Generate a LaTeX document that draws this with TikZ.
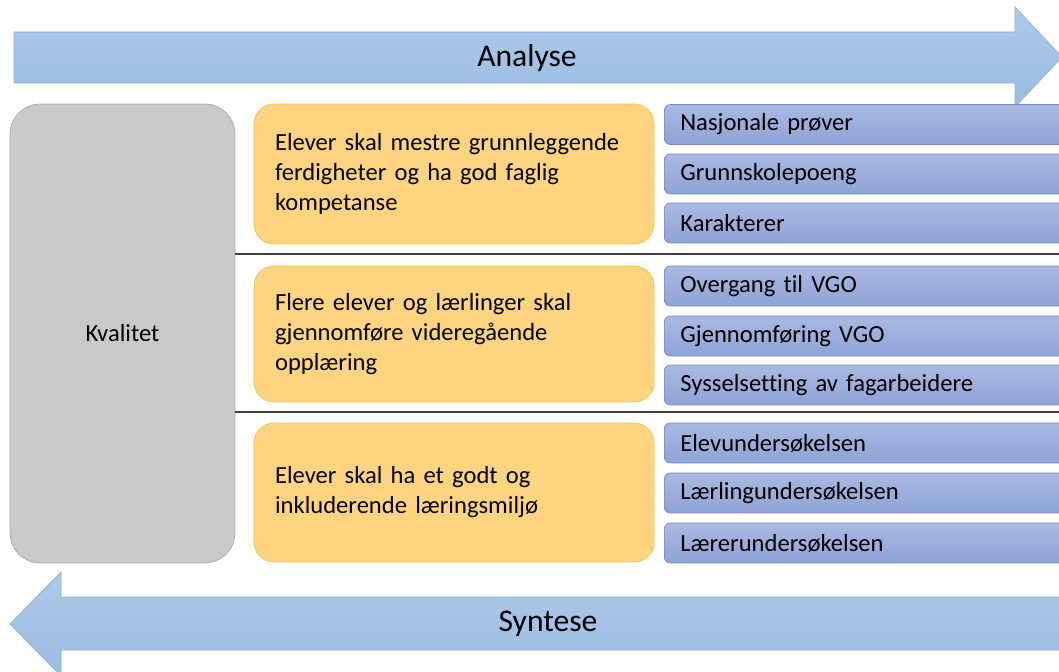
\documentclass[tikz,border=0pt]{standalone}
\usepackage{fontspec}
\setmainfont{Carlito}[Ligatures=NoCommon]
\usetikzlibrary{shapes,arrows,positioning,calc}
\definecolor{arrowtop}{HTML}{AEC9E9}
\definecolor{arrowbot}{HTML}{9ABCE3}
\definecolor{arrowedge}{HTML}{8AB0DD}
\definecolor{kvalgray}{HTML}{C9C9C9}
\definecolor{kvaledge}{HTML}{ABABAB}
\definecolor{goalfill}{HTML}{FFD480}
\definecolor{goaledge}{HTML}{F6C13D}
\definecolor{indtop}{HTML}{A9B9E2}
\definecolor{indbot}{HTML}{8EA3D7}
\definecolor{indedge}{HTML}{7189C9}
\definecolor{sepgray}{HTML}{404040}

\tikzset{
    goalbox/.style={draw=goaledge, fill=goalfill, rounded corners=0.4cm, minimum width=8cm,
        text width=7.16cm, inner xsep=0.42cm, align=left, font=\fontsize{14}{17}\selectfont},
    indbox/.style={draw=indedge, top color=indtop, bottom color=indbot, rounded corners=0.12cm,
        minimum width=8.2cm, minimum height=0.8cm, text width=7.56cm, inner xsep=0.32cm,
        align=left, anchor=west, font=\fontsize{14}{17}\selectfont},
    flowarrow/.style={draw=arrowedge, top color=arrowtop, bottom color=arrowbot},
    sepline/.style={draw=sepgray, line width=1pt}
}

\begin{document}
\begin{tikzpicture}[x=0.02cm, y=-0.02cm]

\useasboundingbox (0,0) rectangle (1059,672);

% Analyse arrow
\path[flowarrow] (14,32) -- (1015,32) -- (1015,7) -- (1062,57) -- (1015,107) -- (1015,83) -- (14,83) -- cycle;
\node[font=\fontsize{18}{21}\selectfont] (analyse) at (527,58) {Analyse};

% Syntese arrow
\path[flowarrow] (1070,597) -- (61,597) -- (61,572) -- (10,624) -- (61,676) -- (61,650) -- (1070,650) -- cycle;
\node[font=\fontsize{18}{21}\selectfont] (syntese) at (548,624) {Syntese};

% Kvalitet
\node[draw=kvaledge, fill=kvalgray, rounded corners=0.6cm, minimum width=4.5cm, minimum height=9.18cm,
    font=\fontsize{14}{17}\selectfont] (kval) at (122.5,333.5) {Kvalitet};

% Separators
\coordinate (sep1) at (1070,254);
\coordinate (sep2) at (1070,412);
\draw[sepline] (kval.east |- sep1) -- (sep1);
\draw[sepline] (kval.east |- sep2) -- (sep2);

% Goals
\node[goalbox, minimum height=2.8cm] (goal1) at (454,174) {Elever skal mestre grunnleggende\\ ferdigheter og ha god faglig\\ kompetanse};
\node[goalbox, minimum height=2.72cm] (goal2) at (454,334) {Flere elever og lærlinger skal\\ gjennomføre videregående\\ opplæring};
\node[goalbox, minimum height=2.78cm] (goal3) at (454,492.5) {Elever skal ha et godt og\\ inkluderende læringsmiljø};

% Indicators
\foreach \txt/\y [count=\i] in {Nasjonale prøver/124.5, Grunnskolepoeng/174, Karakterer/223,
    Overgang til VGO/286, Gjennomføring VGO/336, Sysselsetting av fagarbeidere/385,
    Elevundersøkelsen/443, Lærlingundersøkelsen/493, Lærerundersøkelsen/543} {
    \node[indbox] (ind\i) at (664,\y) {\txt};
}

\end{tikzpicture}
\end{document}
